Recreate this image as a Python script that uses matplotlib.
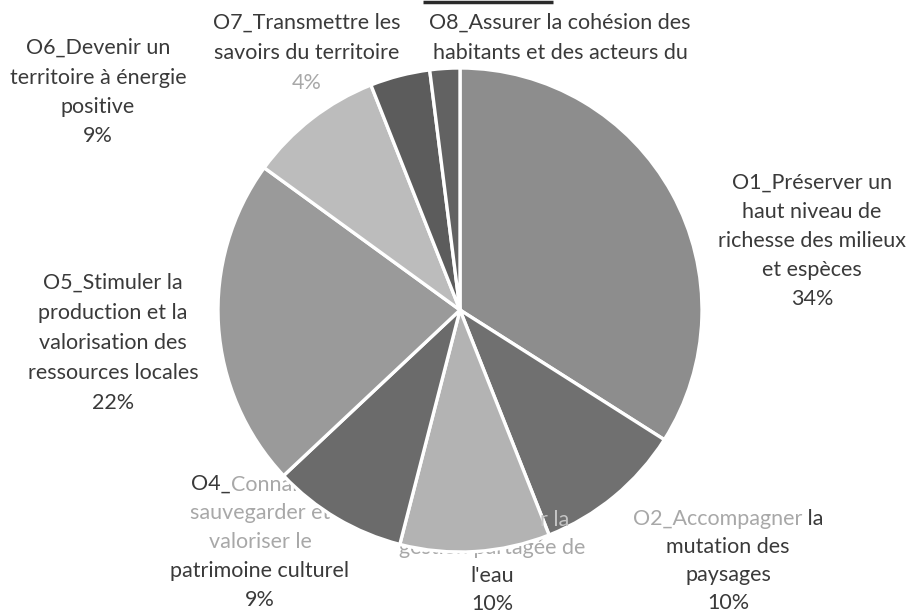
import matplotlib
matplotlib.use("Agg")
import matplotlib.pyplot as plt

# ---------------- data ----------------
categories = ["O1", "O2", "O3", "O4", "O5", "O6", "O7", "O8"]
values = [34, 10, 10, 9, 22, 9, 4, 2]
slice_colors = ["#8d8d8d", "#707070", "#b3b3b3", "#6b6b6b",
                "#9a9a9a", "#bcbcbc", "#5c5c5c", "#626262"]

DARK = "#3a3a3a"
LIGHT = "#a8a8a8"
LIGHT2 = "#c4c4c4"

# label lines: list of lines, each line is a list of (text, colour, on_top) segments
label_lines = {
    "O1": [[("O1_Préserver un", DARK, False)], [("haut niveau de", DARK, False)],
           [("richesse des milieux", DARK, False)], [("et espèces", DARK, False)],
           [("34%", DARK, False)]],
    "O2": [[("O2_Accompagner", LIGHT, False), (" la", DARK, False)],
           [("mutation des", DARK, False)], [("paysages", DARK, False)], [("10%", DARK, False)]],
    "O3": [[("O3_Organise", LIGHT, False), ("r la", LIGHT2, True)],
           [("gestion partagée de", LIGHT, False)],
           [("l'eau", DARK, False)], [("10%", DARK, False)]],
    "O4": [[("O4_", DARK, False), ("Connaître,", LIGHT, False)], [("sauvegarder et", LIGHT, False)],
           [("valoriser le", LIGHT, False)], [("patrimoine culturel", DARK, False)],
           [("9%", DARK, False)]],
    "O5": [[("O5_Stimuler la", DARK, False)], [("production et la", DARK, False)],
           [("valorisation des", DARK, False)], [("ressources locales", DARK, False)],
           [("22%", DARK, False)]],
    "O6": [[("O6_Devenir un", DARK, False)], [("territoire à énergie", DARK, False)],
           [("positive", DARK, False)], [("9%", DARK, False)]],
    "O7": [[("O7_Transmettre les", DARK, False)], [("savoirs du territoire", DARK, False)],
           [("4%", LIGHT, False)]],
    "O8": [[("O8_Assurer la cohésion des", DARK, False)],
           [("habitants et des acteurs du", DARK, False)]],
}

# ---------------- layout (pixels, top-left origin) ----------------
W, H = 920, 614
PIE_CX, PIE_CY, PIE_R = 460, 310, 242
label_pos = {  # centre x, first line y, line step
    "O1": (812, 183, 29),
    "O2": (728, 519, 28),
    "O3": (492, 520, 28),
    "O4": (260, 484, 29),
    "O5": (113, 283, 30),
    "O6": (98, 48, 29.5),
    "O7": (307, 23, 30),
    "O8": (560, 23, 30),
}

FONT = ["Lato", "DejaVu Sans"]
FS = 15.5

fig = plt.figure(figsize=(W / 100, H / 100), dpi=100)
fig.patch.set_facecolor("white")
ax = fig.add_axes([0, 0, 1, 1])

wedges, _ = ax.pie(values, colors=slice_colors, startangle=90, counterclock=False,
                   center=(PIE_CX, H - PIE_CY), radius=PIE_R,
                   wedgeprops=dict(edgecolor="white", linewidth=2.4, zorder=2))
ax.set_xlim(0, W)
ax.set_ylim(0, H)
ax.set_aspect("equal")
ax.axis("off")

renderer = fig.canvas.get_renderer()


def draw_line(cx, ypix, segments):
    texts = []
    for s, c, top in segments:
        t = ax.text(0, H - ypix, s, color=c, fontsize=FS, family=FONT,
                    ha="left", va="center", zorder=4 if top else 1)
        texts.append(t)
    widths = [t.get_window_extent(renderer).width for t in texts]
    total = sum(widths)
    x = cx - total / 2
    for t, w in zip(texts, widths):
        t.set_x(x)
        x += w


for cat in categories:
    cx, y0, step = label_pos[cat]
    for i, segs in enumerate(label_lines[cat]):
        draw_line(cx, y0 + i * step, segs)

# scan artefact: dark bar at the very top
ax.plot([423, 553], [H - 2, H - 2], color="#2a2a2a", lw=2.5, solid_capstyle="butt")

fig.savefig("out.png", dpi=100, facecolor="white")
